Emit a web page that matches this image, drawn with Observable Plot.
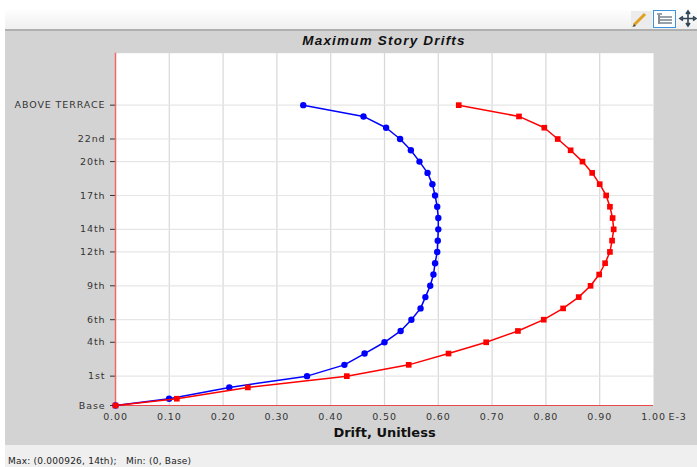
<!DOCTYPE html>
<html><head><meta charset="utf-8">
<script src="https://cdn.jsdelivr.net/npm/d3@7"></script>
<script src="https://cdn.jsdelivr.net/npm/@observablehq/plot@0.6"></script>
<style>
html,body{margin:0;padding:0;background:#fff;}
#wrap{position:relative;width:697px;height:467px;overflow:hidden;font-family:"DejaVu Sans",sans-serif;}
#toolbar{position:absolute;left:5px;top:10px;width:692px;height:19px;background:linear-gradient(#fdfdfd,#f0f0f0);border-bottom:2px solid #b0b0b0;}
#panel{position:absolute;left:5px;top:31px;width:692px;height:414px;background:#d3d3d3;}
#status{position:absolute;left:5px;top:445px;width:692px;height:22px;background:#efefef;}
#status span{position:absolute;left:3px;top:11px;font:9px "DejaVu Sans",sans-serif;letter-spacing:.22px;color:#222;white-space:pre;}
#title{position:absolute;left:115px;width:538px;top:32.500px;margin:0;text-align:center;font:italic bold 13.5px "Liberation Sans",sans-serif;letter-spacing:1.2px;color:#111;}
#chart{position:absolute;left:0;top:0;}
#chart svg{background:transparent;display:block;}
#icons{position:absolute;left:625px;top:5px;}
.tk text{letter-spacing:.9px;}
</style></head><body>
<div id="wrap">
<div id="toolbar"></div><div id="panel"></div>
<div id="status"><span>Max: (0.000926, 14th);   Min: (0, Base)</span></div>
<h1 id="title">Maximum Story Drifts</h1>
<div id="chart"></div>
<svg id="icons" width="72" height="28" viewBox="0 0 72 28">
<rect x="6" y="6" width="21" height="18" fill="#ececec"/>
<path d="M9 20 L20 9" stroke="#e0a020" stroke-width="3"/><path d="M7.500 22 L9 19 L11 21 Z" fill="#444"/>
<rect x="28.500" y="5.500" width="22" height="17" fill="#fff" stroke="#3d95e0"/>
<path d="M32 9h5M35 12h12M35 15h12M35 18h12M34 10v9" stroke="#345" stroke-width="1.2" fill="none"/>
<path d="M63 8v11M57 13.500h12M61 9l2-3 2 3M61 18l2 3 2-3M58 11.500l-3 2 3 2M68 11.500l3 2-3 2" stroke="#345" stroke-width="1.6" fill="none"/>
</svg>
</div>
<script>
const storyElev = [0,0.6,1.6,2.6,3.6,4.6,5.6,6.6,7.6,8.6,9.6,10.6,11.6,12.6,13.6,14.6,15.6,16.6,17.6,18.6,19.6,20.6,21.6,22.6,23.6,24.6,25.6,26.6];
const storyNames = ["Base","B1","B2","1st","2nd","3rd","4th","5th","6th","7th","8th","9th","10th","11th","12th","13th","14th","15th","16th","17th","18th","19th","20th","21st","22nd","23rd","24th","ABOVE TERRACE"];
const blueDrift = [0,0.0996,0.2115,0.356,0.4255,0.463,0.500,0.530,0.550,0.567,0.576,0.585,0.591,0.594,0.598,0.599,0.600,0.600,0.598,0.594,0.589,0.580,0.565,0.549,0.529,0.503,0.461,0.349];
const redDrift = [0,0.114,0.246,0.430,0.545,0.619,0.689,0.748,0.796,0.832,0.861,0.883,0.899,0.910,0.919,0.923,0.926,0.924,0.919,0.912,0.900,0.886,0.868,0.846,0.822,0.797,0.750,0.638];
const labeled = ["Base","1st","4th","6th","9th","12th","14th","17th","20th","22nd","ABOVE TERRACE"];
const xTicks = [0,0.1,0.2,0.3,0.4,0.5,0.6,0.7,0.8,0.9,1];
const yMax = 31.2;

const blue = storyElev.map((y,i)=>({y,x:blueDrift[i]}));
const red = storyElev.map((y,i)=>({y,x:redDrift[i]}));
const yTicks = labeled.map(n=>storyElev[storyNames.indexOf(n)]);
const xFmt = d => d.toFixed(2);
const yFmt = d => storyNames[storyElev.indexOf(d)];

const plot = Plot.plot({
  width:697,height:467,
  marginLeft:115,marginRight:44,marginTop:52.7,marginBottom:62,
  style:{background:"transparent",fontFamily:"'DejaVu Sans',sans-serif",fontSize:"9.5px",color:"#333"},
  x:{domain:[0,1],ticks:xTicks,tickFormat:xFmt,tickSize:0,label:null},
  y:{domain:[0,yMax],ticks:yTicks,tickFormat:yFmt,tickSize:0,label:null},
  marks:[
    Plot.frame({fill:"#fff",stroke:null}),
    Plot.gridX(xTicks.slice(1,-1),{stroke:"#d8d8d8",strokeOpacity:1,strokeWidth:1.2}),
    Plot.gridY(yTicks.slice(1),{stroke:"#e6e6e6",strokeOpacity:1,strokeWidth:1.2}),
    Plot.axisX({ticks:xTicks,tickFormat:xFmt,tickSize:0,tickPadding:8,label:null,fill:"#333",className:"tk"}),
    Plot.axisY({ticks:yTicks,tickFormat:yFmt,tickSize:5,tickPadding:5,label:null,stroke:"#333",fill:"#333",className:"tk"}),
    Plot.text([1],{x:d=>d,text:()=>"E-3",frameAnchor:"bottom",lineAnchor:"top",textAnchor:"start",dx:15,dy:8,fill:"#333",className:"tk"}),
    Plot.ruleX([0],{stroke:"#ee6a6a",strokeWidth:1.5}),
    Plot.ruleY([0],{stroke:"#e84a4a",strokeWidth:1}),
    Plot.line(blue,{x:"x",y:"y",stroke:"#0000ff",strokeWidth:1.5}),
    Plot.dot(blue,{x:"x",y:"y",r:3.2,fill:"#0000ff",stroke:null}),
    Plot.line(red,{x:"x",y:"y",stroke:"#ff0000",strokeWidth:1.5}),
    Plot.dot(red,{x:"x",y:"y",symbol:"square",r:3.2,fill:"#ff0000",stroke:null}),
    Plot.text(["Drift, Unitless"],{frameAnchor:"bottom",dy:31,fontSize:13,fontWeight:"bold",fill:"#111",fontFamily:"'DejaVu Sans',sans-serif"})
  ]
});
document.getElementById("chart").append(plot);
</script>
</body></html>
